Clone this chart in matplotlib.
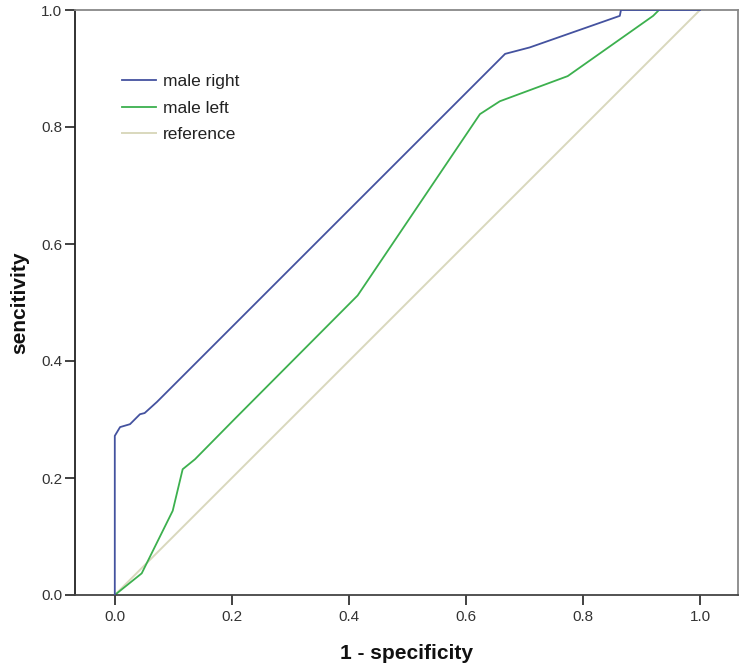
import matplotlib
matplotlib.use("Agg")
import matplotlib.pyplot as plt

plt.rcParams['font.family'] = ['Liberation Sans', 'DejaVu Sans']

right_x = [0.0, 0.0, 0.009, 0.026, 0.043, 0.051, 0.072, 0.667, 0.709, 0.863, 0.865, 1.0]
right_y = [0.0, 0.272, 0.287, 0.292, 0.309, 0.311, 0.330, 0.925, 0.936, 0.990, 1.0, 1.0]

left_x = [0.0, 0.046, 0.099, 0.116, 0.137, 0.205, 0.415, 0.624, 0.658, 0.774, 0.920, 0.930, 1.0]
left_y = [0.0, 0.037, 0.144, 0.215, 0.232, 0.301, 0.512, 0.822, 0.844, 0.887, 0.990, 1.0, 1.0]

ref_x = [0.0, 1.0]
ref_y = [0.0, 1.0]

xticks = [0.0, 0.2, 0.4, 0.6, 0.8, 1.0]
yticks = [0.0, 0.2, 0.4, 0.6, 0.8, 1.0]

fig = plt.figure(figsize=(7.47, 6.71), dpi=100)
ax = fig.add_axes([75/747, 1-595/671, (738-75)/747, (595-10)/671])

ax.plot(ref_x, ref_y, color='#d9d8bd', lw=1.4, label='reference', zorder=1)
ax.plot(left_x, left_y, color='#3cb04e', lw=1.3, label='male left', zorder=2)
ax.plot(right_x, right_y, color='#44529f', lw=1.3, label='male right', zorder=3)

ax.set_xlim(-0.068, 1.065)
ax.set_ylim(0, 1.0)
ax.set_xticks(xticks)
ax.set_yticks(yticks)
ax.set_xticklabels([f"{t:.1f}" for t in xticks])
ax.set_yticklabels([f"{t:.1f}" for t in yticks])
ax.tick_params(direction='out', length=7, width=1.3, labelsize=11, colors='#333333', pad=2)
ax.tick_params(axis='x', pad=4)

ax.spines['left'].set_color('#222222')
ax.spines['left'].set_linewidth(1.3)
ax.spines['bottom'].set_color('#444444')
ax.spines['bottom'].set_linewidth(1.3)
for s in ['top', 'right']:
    ax.spines[s].set_color('#888888')
    ax.spines[s].set_linewidth(1.3)

ax.set_xlabel('1 - specificity', fontsize=15, fontweight='bold', labelpad=14, color='#111111')
ax.set_ylabel('sencitivity', fontsize=15, fontweight='bold', labelpad=9, color='#111111')

h, l = ax.get_legend_handles_labels()
order = [2, 1, 0]
ax.legend([h[i] for i in order], [l[i] for i in order], loc='upper left',
          bbox_to_anchor=(0.065, 0.896), frameon=False, fontsize=12.5,
          handlelength=2.0, handletextpad=0.4, labelspacing=0.65, labelcolor='#222222',
          borderpad=0.2, borderaxespad=0.0)

fig.savefig('out.png', dpi=100)
